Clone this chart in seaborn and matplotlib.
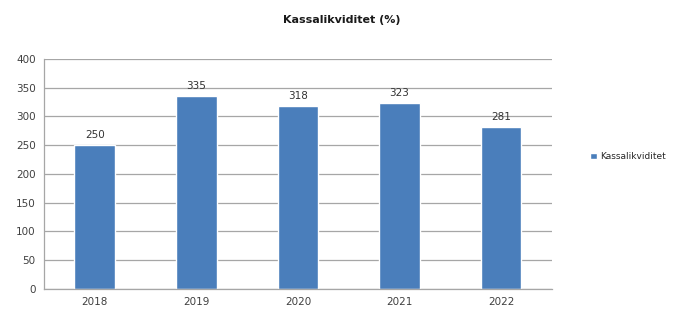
import pandas as pd
import matplotlib
matplotlib.use("Agg")
import matplotlib.pyplot as plt
import seaborn as sns

years = ["2018", "2019", "2020", "2021", "2022"]
values = [250, 335, 318, 323, 281]
series_name = "Kassalikviditet"

df = pd.DataFrame({"År": years, "Verdi": values, "Serie": series_name})

sns.set_style("white")
plt.rcParams["font.family"] = ["DejaVu Sans"]

fig = plt.figure(figsize=(6.83, 3.13), dpi=100)
ax = fig.add_axes([0.0644, 0.0767, 0.7436, 0.7348])

sns.barplot(data=df, x="År", y="Verdi", hue="Serie", palette=["#4a7ebb"],
            width=0.4, ax=ax, saturation=1)

for cont in ax.containers:
    ax.bar_label(cont, padding=4, fontsize=7.5, color="#333333")

ax.set_ylim(0, 400)
ax.set_yticks(range(0, 401, 50))
ax.yaxis.grid(True, color="#a6a6a6", linewidth=0.9)
ax.set_axisbelow(True)
ax.set_xlabel("")
ax.set_ylabel("")
for s in ["top", "right"]:
    ax.spines[s].set_visible(False)
for s in ["left", "bottom"]:
    ax.spines[s].set_color("#a6a6a6")
    ax.spines[s].set_linewidth(0.9)
ax.tick_params(axis="both", labelsize=7.5, colors="#404040", length=0, pad=6)

ax.legend(loc="center left", bbox_to_anchor=(1.06, 0.574), frameon=False,
          fontsize=6.5, handlelength=0.7, handleheight=0.7, handletextpad=0.4)

fig.text(0.5, 0.935, "Kassalikviditet (%)", ha="center", va="center",
         fontsize=8, fontweight="bold", color="#1a1a1a")

fig.savefig("out.png", dpi=100)
